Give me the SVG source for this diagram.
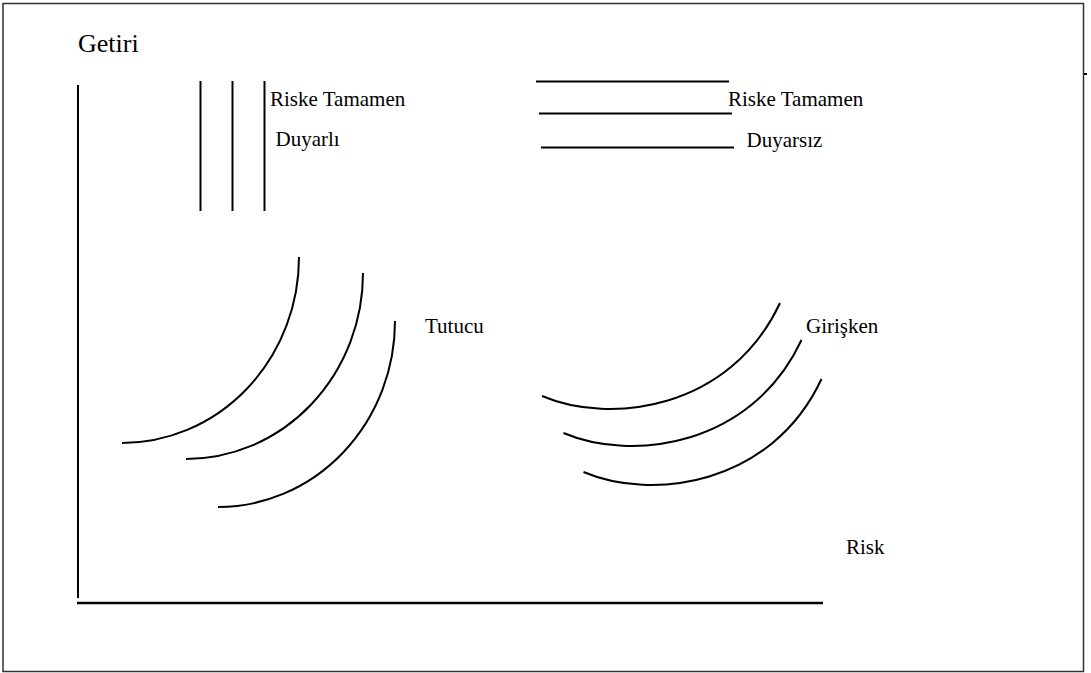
<svg xmlns="http://www.w3.org/2000/svg" width="1091" height="673" viewBox="0 0 1091 673">
<style>
.ln{stroke:#000;stroke-width:2;fill:none}
.cv{stroke:#000;stroke-width:2;fill:none}
.t{font-family:"Liberation Serif","Times New Roman",serif;font-size:21px;fill:#000}
.big{font-size:26px}
</style>
<rect x="0" y="0" width="1091" height="673" fill="#fff"/>
<g id="frame">
<rect x="3" y="3.5" width="1080.5" height="668" fill="none" stroke="#333" stroke-width="1.5"/>
<line x1="1084" y1="74" x2="1087" y2="74" stroke="#000" stroke-width="2"/>
</g>
<g id="axes">
<line class="ln" x1="78" y1="85" x2="78" y2="598"/>
<line x1="77" y1="603" x2="823" y2="603" stroke="#000" stroke-width="2.5"/>
<text class="t big" x="78" y="52">Getiri</text>
<text class="t" x="846" y="554">Risk</text>
</g>
<g id="riske-duyarli">
<line class="ln" x1="200.5" y1="81" x2="200.5" y2="211"/>
<line class="ln" x1="232.5" y1="81" x2="232.5" y2="211"/>
<line class="ln" x1="264.5" y1="81" x2="264.5" y2="211"/>
<text class="t" x="270" y="106">Riske Tamamen</text>
<text class="t" x="275.5" y="146">Duyarlı</text>
</g>
<g id="riske-duyarsiz">
<line class="ln" x1="536" y1="81.5" x2="729" y2="81.5"/>
<line class="ln" x1="539" y1="113.5" x2="732" y2="113.5"/>
<line class="ln" x1="541" y1="147.5" x2="734" y2="147.5"/>
<text class="t" x="728" y="106">Riske Tamamen</text>
<text class="t" x="746.5" y="147">Duyarsız</text>
</g>
<g id="tutucu">
<path class="cv" d="M299,257 A177,186 0 0 1 122,443"/>
<path class="cv" d="M363,273 A177,186 0 0 1 186,459"/>
<path class="cv" d="M395,321 A177,186 0 0 1 218,507"/>
<text class="t" x="425" y="333">Tutucu</text>
</g>
<g id="girisken">
<path class="cv" d="M542,396 C610,425 730,410 780,303"/>
<path class="cv" d="M563.5,433 C631.5,462 751.5,447 801.5,340"/>
<path class="cv" d="M583.5,472 C651.5,501 771.5,486 821.5,379"/>
<text class="t" x="806" y="333">Girişken</text>
</g>
</svg>
